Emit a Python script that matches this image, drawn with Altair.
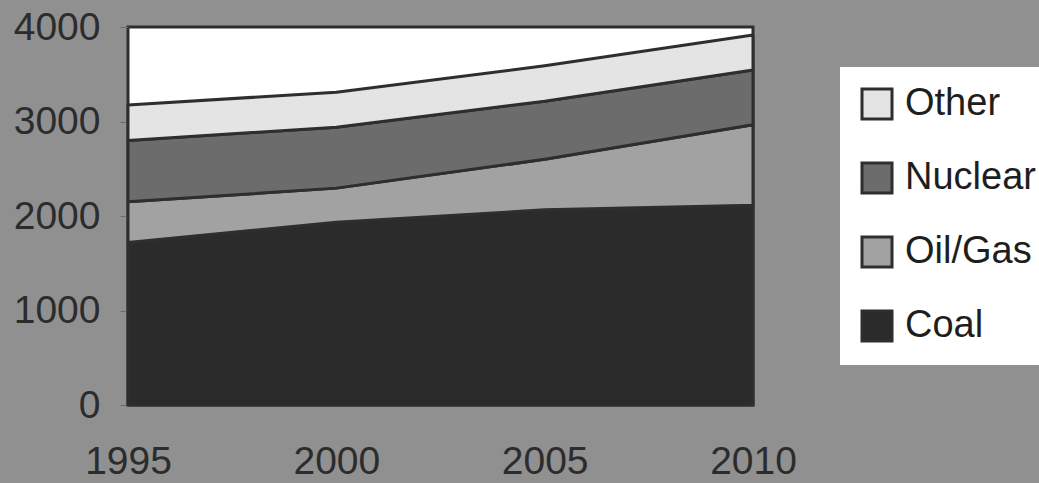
import altair as alt
import pandas as pd

years = [1995, 2000, 2005, 2010]
coal = [1720, 1935, 2065, 2115]
oil_gas = [430, 360, 535, 850]
nuclear = [650, 645, 615, 580]
other = [375, 370, 375, 370]

series = ["Other", "Nuclear", "Oil/Gas", "Coal"]
colors = ["#e4e4e4", "#6c6c6c", "#a2a2a2", "#2b2b2b"]
stack_order = {"Coal": 0, "Oil/Gas": 1, "Nuclear": 2, "Other": 3}
y_ticks = [0, 1000, 2000, 3000, 4000]

rows = []
for name, vals in [("Coal", coal), ("Oil/Gas", oil_gas), ("Nuclear", nuclear), ("Other", other)]:
    for yr, v in zip(years, vals):
        rows.append({"Year": yr, "Source": name, "Value": v, "ord": stack_order[name]})
df = pd.DataFrame(rows)

FONT = "Liberation Sans"
TXT = "#2c2c2c"
EDGE = "#2e2e2e"

chart = alt.Chart(df).mark_area(
    stroke=EDGE, strokeWidth=3, strokeJoin="round", opacity=1
).encode(
    x=alt.X(
        "Year:Q",
        scale=alt.Scale(domain=[1995, 2010], nice=False, zero=False),
        axis=alt.Axis(
            values=years, format="d", title=None, ticks=False, domain=False, grid=False,
            labelFontSize=39, labelColor=TXT, labelFont=FONT, labelPadding=37,
            labelFlush=False, labelOverlap=False,
        ),
    ),
    y=alt.Y(
        "Value:Q",
        stack="zero",
        scale=alt.Scale(domain=[0, 4000], nice=False),
        axis=alt.Axis(
            values=y_ticks, format="d", title=None, grid=False, domain=False, tickSize=8,
            tickColor="#6a6a6a", tickWidth=1, labelPadding=20, labelFontSize=39,
            labelColor=TXT, labelFont=FONT, labelOverlap=False,
        ),
    ),
    color=alt.Color(
        "Source:N",
        scale=alt.Scale(domain=series, range=colors),
        legend=alt.Legend(
            title=None, orient="none", legendX=712, legendY=40, fillColor="white",
            padding=18, symbolType="square", symbolSize=900, symbolStrokeWidth=3,
            symbolStrokeColor=EDGE, symbolOpacity=1, labelFontSize=38, labelFont=FONT,
            labelColor="#1e1e1e", labelOffset=9, rowPadding=32,
        ),
    ),
    order=alt.Order("ord:Q", sort="ascending"),
).properties(
    width=625,
    height=378,
    background="#909090",
    padding={"left": 128, "top": 27, "right": 286, "bottom": 78},
    autosize=alt.AutoSizeParams(type="none"),
).configure_view(fill="white", stroke=EDGE, strokeWidth=3)

chart.save("out.html", embed_options={"renderer": "svg", "actions": False})
